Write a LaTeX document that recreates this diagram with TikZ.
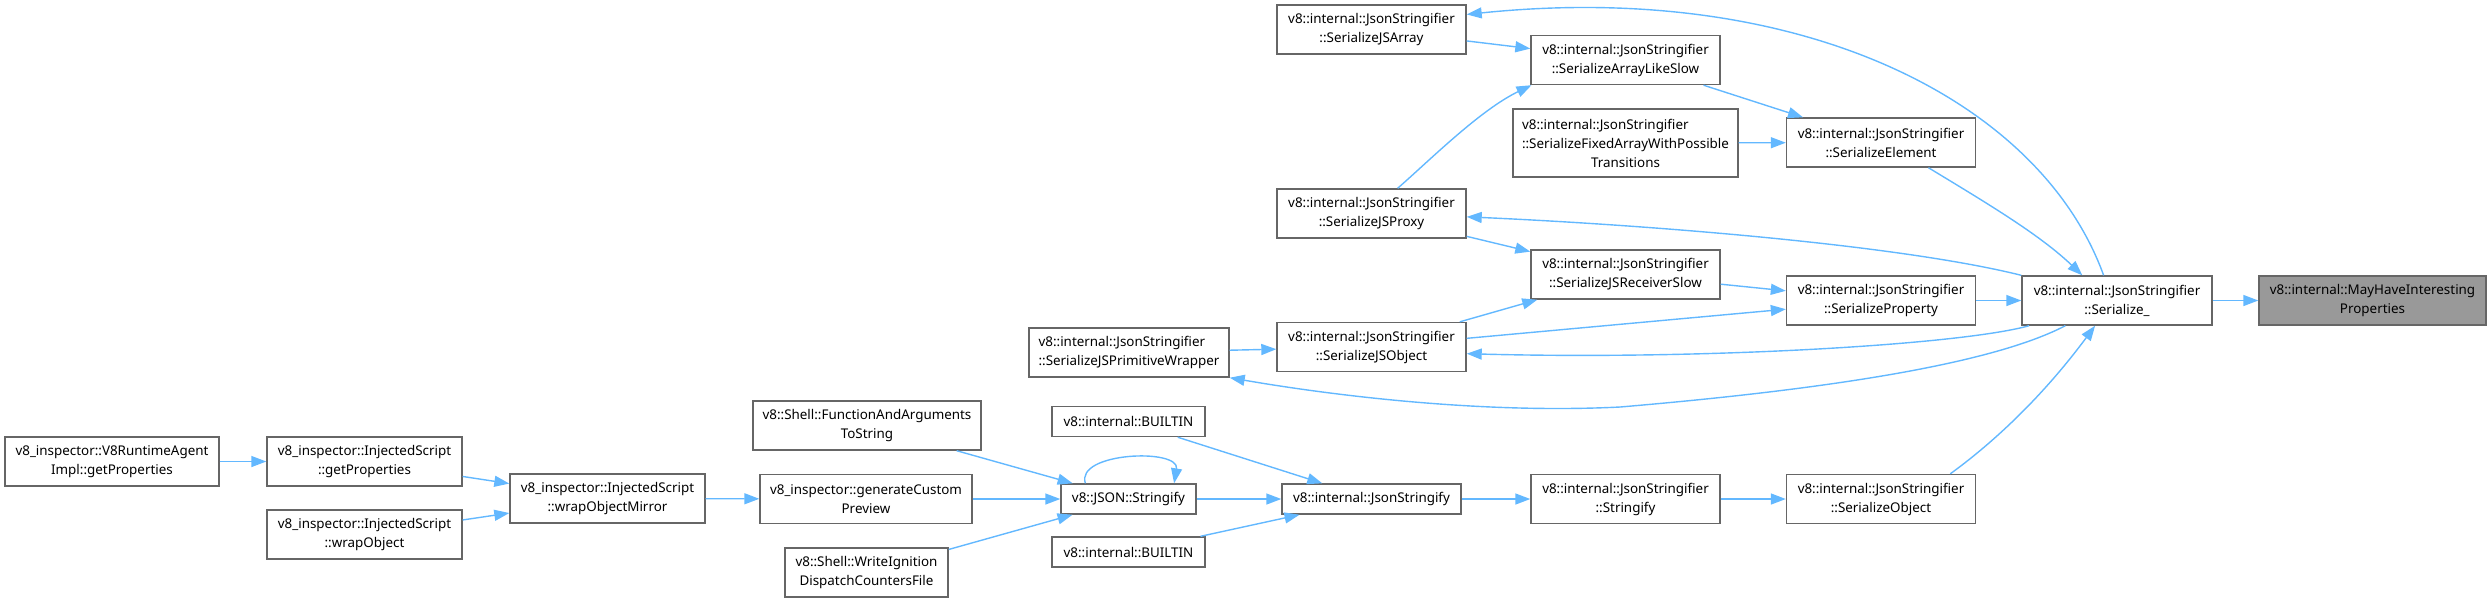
\documentclass[tikz,border=0pt]{standalone}
\usepackage{fontspec}
\setmainfont{Noto Sans}
\usepackage{tikz}
\usetikzlibrary{arrows.meta}
\definecolor{EdgeBlue}{HTML}{63B8FF}
\definecolor{BoxGrey}{HTML}{666666}
\definecolor{HighGrey}{HTML}{999999}

\begin{document}
\begin{tikzpicture}[x=0.5pt, y=-0.5pt,
  every node/.style={align=center, font=\fontsize{6.7}{9.5}\selectfont},
  fnbox/.style={draw=BoxGrey, line width=0.7pt, fill=white, inner sep=1pt, minimum height=24.5pt},
  jsbox/.style={fnbox, minimum width=94.5pt},
  onebox/.style={fnbox, minimum height=15pt},
  call/.style={-{Triangle[length=7.5pt, width=5.5pt]}, color=EdgeBlue, line width=0.7pt}]
\useasboundingbox (0,0) rectangle (2492,602);
% inspector callers
\node[fnbox, minimum width=107pt] (agentProps) at (112,461.5) {v8\_inspector::V8RuntimeAgent\\Impl::getProperties};
\node[fnbox, minimum width=97.5pt] (scriptProps) at (364.5,461.5) {v8\_inspector::InjectedScript\\::getProperties};
\node[fnbox, minimum width=97.5pt] (scriptWrap) at (364.5,534.5) {v8\_inspector::InjectedScript\\::wrapObject};
\node[fnbox, minimum width=97.5pt] (wrapMirror) at (607.5,498.5) {v8\_inspector::InjectedScript\\::wrapObjectMirror};
\node[fnbox, minimum width=114pt] (funcArgs) at (867,425.5) {v8::Shell::FunctionAndArguments\\ToString};
\node[fnbox, minimum width=106pt] (customPreview) at (866,499) {v8\_inspector::generateCustom\\Preview};
\node[fnbox, minimum width=81.5pt] (writeIgnition) at (866.5,572.5) {v8::Shell::WriteIgnition\\DispatchCountersFile};
% json entry points
\node[onebox, minimum width=67.5pt] (jsonStringify) at (1128.5,499) {v8::JSON::Stringify};
\node[onebox, minimum width=76.5pt] (builtinTop) at (1128.5,421.5) {v8::internal::BUILTIN};
\node[onebox, minimum width=76.5pt] (builtinBot) at (1128.5,552) {v8::internal::BUILTIN};
\node[onebox, minimum width=89.5pt] (internalStringify) at (1371.5,499) {v8::internal::JsonStringify};
\node[fnbox, minimum width=100pt] (primWrapper) at (1129,352.5) {\makebox[0pt][l]{v8::internal::JsonStringifier}\hphantom{::SerializeJSPrimitiveWrapper}\\::SerializeJSPrimitiveWrapper};
% serializer
\node[jsbox] (jsArray) at (1371.5,29.5) {v8::internal::JsonStringifier\\::SerializeJSArray};
\node[jsbox] (jsProxy) at (1371.5,213.5) {v8::internal::JsonStringifier\\::SerializeJSProxy};
\node[jsbox] (jsObject) at (1371.5,347) {v8::internal::JsonStringifier\\::SerializeJSObject};
\node[jsbox] (arrayLike) at (1625.5,60) {v8::internal::JsonStringifier\\::SerializeArrayLikeSlow};
\node[fnbox, minimum width=112.5pt, minimum height=34pt] (fixedArray) at (1625.5,143) {\makebox[0pt][l]{v8::internal::JsonStringifier}\hphantom{::SerializeFixedArrayWithPossible}\\::SerializeFixedArrayWithPossible\\Transitions};
\node[jsbox] (receiverSlow) at (1625.5,274.5) {v8::internal::JsonStringifier\\::SerializeJSReceiverSlow};
\node[jsbox] (stringifier) at (1625.5,499) {v8::internal::JsonStringifier\\::Stringify};
\node[jsbox] (element) at (1881,142.5) {v8::internal::JsonStringifier\\::SerializeElement};
\node[jsbox] (property) at (1881,300.5) {v8::internal::JsonStringifier\\::SerializeProperty};
\node[jsbox] (object) at (1881,499) {v8::internal::JsonStringifier\\::SerializeObject};
\node[jsbox, minimum width=95pt] (serialize) at (2117,300.5) {v8::internal::JsonStringifier\\::Serialize\_};
\node[fnbox, fill=HighGrey, minimum width=113.5pt] (mayHave) at (2372.5,300.5) {v8::internal::MayHaveInteresting\\Properties};
% calls
\draw[call] (agentProps) -- (scriptProps);
\draw[call] (scriptProps) -- (wrapMirror);
\draw[call] (scriptWrap) -- (wrapMirror);
\draw[call] (wrapMirror) -- (customPreview);
\draw[call] (funcArgs) -- (jsonStringify);
\draw[call] (customPreview) -- (jsonStringify);
\draw[call] (writeIgnition) -- (jsonStringify);
\draw[call] (jsonStringify.160) .. controls (1075,452) and (1180,448) .. (jsonStringify.19);
\draw[call] (jsonStringify) -- (internalStringify);
\draw[call] (builtinTop) -- (internalStringify);
\draw[call] (builtinBot) -- (internalStringify);
\draw[call] (internalStringify) -- (stringifier);
\draw[call] (stringifier) -- (object);
\draw[call] (object.20) .. controls (1990,445) and (2040,400) .. (serialize.229);
\draw[call] (primWrapper) -- (jsObject);
\draw[call] (jsObject) -- (receiverSlow);
\draw[call] (jsObject) -- (property);
\draw[call] (jsProxy) -- (receiverSlow);
\draw[call] (jsProxy.44) .. controls (1430,160) and (1480,110) .. (arrayLike.195);
\draw[call] (jsArray) -- (arrayLike);
\draw[call] (receiverSlow) -- (property);
\draw[call] (arrayLike) -- (element);
\draw[call] (fixedArray) -- (element);
\draw[call] (element.-28) .. controls (1990,205) and (2040,235) .. (serialize.144);
\draw[call] (property) -- (serialize);
\draw[call] (serialize) -- (mayHave);
% recursion back to the left
\draw[call] (serialize.118) .. controls (2040,100) and (1800,-20) .. (jsArray.9);
\draw[call] (serialize.north west) .. controls (1900,245) and (1650,225) .. (jsProxy.-2);
\draw[call] (serialize.196) .. controls (1960,345) and (1700,360) .. (jsObject.-4);
\draw[call] (serialize.206) .. controls (1990,365) and (1820,390) .. (1620,407) .. controls (1480,414) and (1330,395) .. (primWrapper.south east);
\end{tikzpicture}
\end{document}
